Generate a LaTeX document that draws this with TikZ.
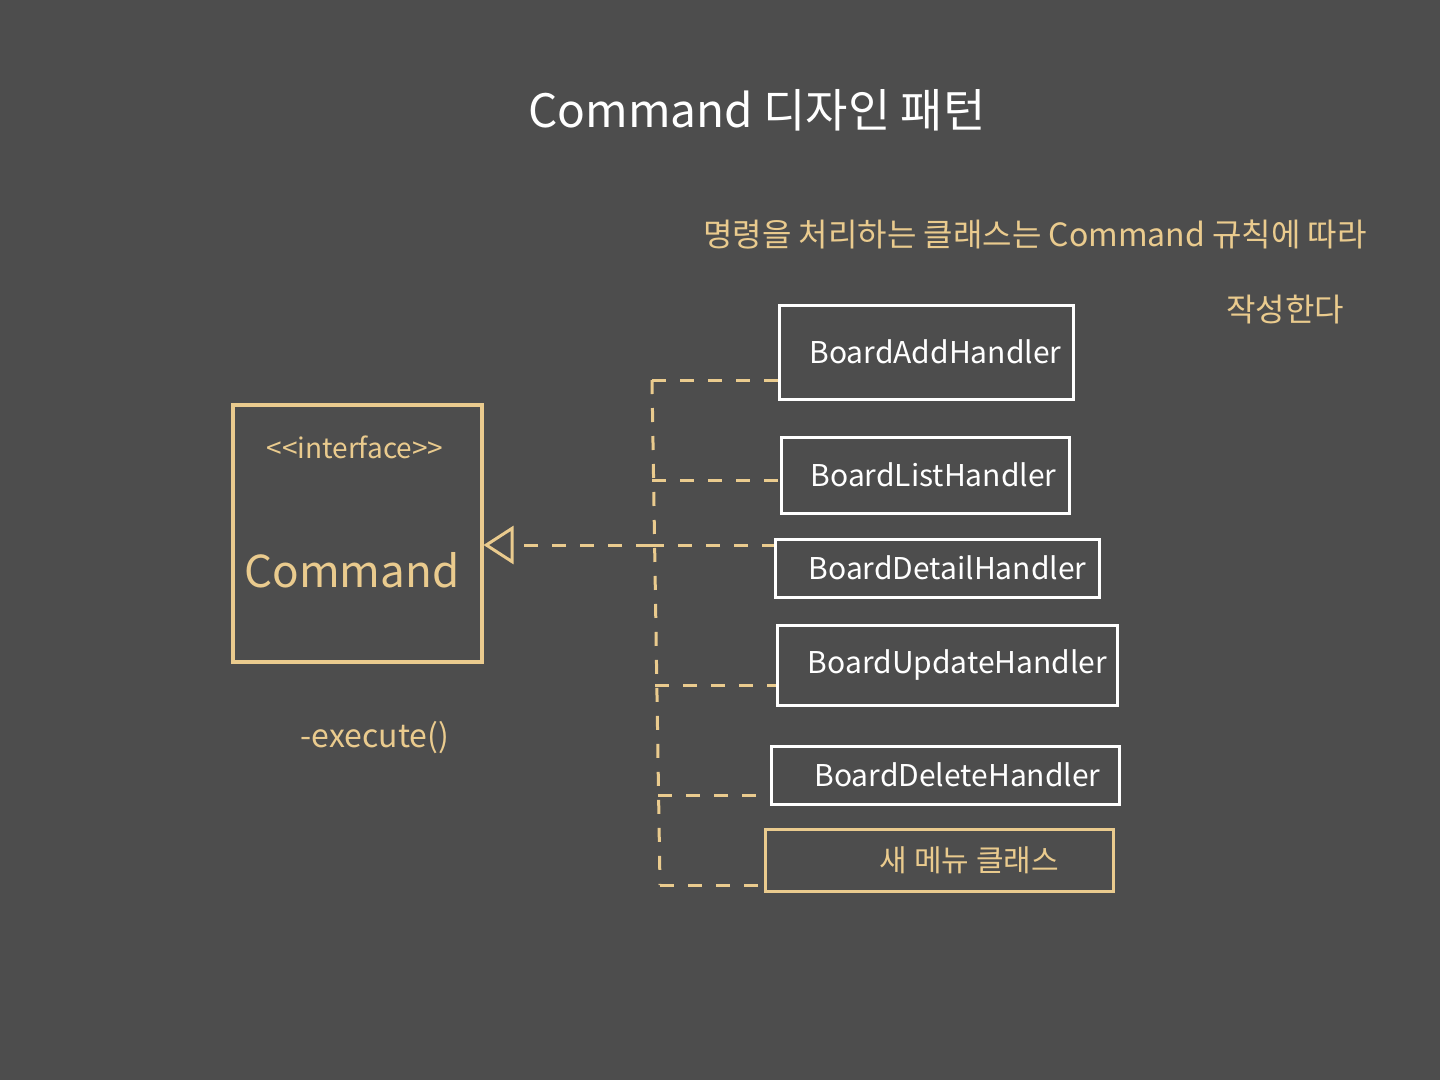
\documentclass[tikz,border=0pt]{standalone}
\usepackage{fontspec}
\setmainfont{Noto Sans CJK KR}
\usetikzlibrary{arrows.meta}
\definecolor{bg}{HTML}{4D4D4D}
\definecolor{gold}{HTML}{EACB8E}
\tikzset{
  handler/.style={draw=white,line width=3pt,text=white,font=\fontsize{30}{32}\selectfont,inner sep=0pt,anchor=west},
  newbox/.style={handler,draw=gold,text=gold},
  dashline/.style={draw=gold,line width=3pt,dash pattern=on 14pt off 14pt},
}
\begin{document}
\begin{tikzpicture}[x=1pt,y=-1pt]
\fill[bg] (0,0) rectangle (1440,1080);
\useasboundingbox (0,0) rectangle (1440,1080);
\node[text=white,font=\fontsize{46}{50}\selectfont] (title) at (757,110) {Command 디자인 패턴};
\node[text=gold,font=\fontsize{32}{36}\selectfont] (note1) at (1035,235) {명령을 처리하는 클래스는 Command 규칙에 따라};
\node[text=gold,font=\fontsize{32}{36}\selectfont] (note2) at (1285,310) {작성한다};
\node[draw=gold,line width=4pt,minimum width=249pt,minimum height=257pt] (iface) at (357,533) {};
\node[text=gold,font=\fontsize{28}{30}\selectfont] (stereo) at (355,447) {<{}<interface>{}>};
\node[text=gold,font=\fontsize{44}{48}\selectfont] (cmd) at (352,570) {Command};
\node[text=gold,font=\fontsize{32}{34}\selectfont] (exec) at (375,738) {-execute()};
\node[handler,minimum width=294pt,minimum height=94pt] (b1) at (778,352) {\hspace{18pt}BoardAddHandler\hfill};
\node[handler,minimum width=288pt,minimum height=76pt] (b2) at (780,475) {\hspace{16pt}BoardListHandler};
\node[handler,minimum width=324pt,minimum height=58pt] (b3) at (774,568) {\hspace{20pt}BoardDetailHandler};
\node[handler,minimum width=340pt,minimum height=80pt] (b4) at (776,665) {\hspace{20pt}BoardUpdateHandler};
\node[handler,minimum width=348pt,minimum height=58pt] (b5) at (770,775) {\hspace{24pt}BoardDeleteHandler};
\node[newbox,minimum width=348pt,minimum height=62pt] (b6) at (764,860) {\hspace{60pt}새 메뉴 클래스};
\coordinate (top) at (652,380);
\coordinate (bot) at (660,885);
\coordinate (j) at (650,545);
\draw[dashline] (top) -- (bot);
\draw[dashline,-{Triangle[open,length=30pt,width=38pt,line width=3pt]}] (j) -- (iface.east |- j);
\draw[dashline] (top) -- (b1.west |- top);
\draw[dashline] (652,480) -- (b2.west |- 0,480);
\draw[dashline] (j) -- (b3.west |- j);
\draw[dashline] (655,685) -- (b4.west |- 0,685);
\draw[dashline] (658,795) -- (b5.west |- 0,795);
\draw[dashline] (bot) -- (b6.west |- bot);
\end{tikzpicture}
\end{document}
